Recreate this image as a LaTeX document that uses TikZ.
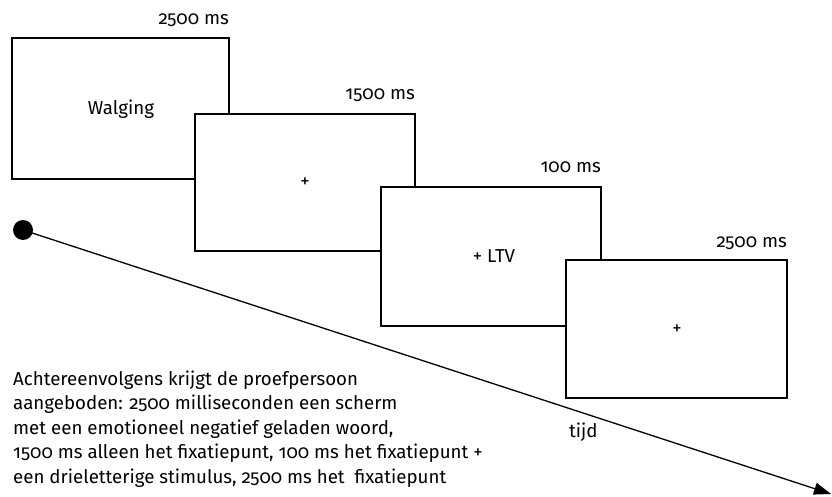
\documentclass[tikz,border=0pt]{standalone}
\usepackage{fontspec}
\setmainfont[Numbers=OldStyle,RawFeature=+onum]{Fira Sans}
\usetikzlibrary{arrows.meta}
\begin{document}
\begin{tikzpicture}[x=1pt,y=-1pt,
  screen/.style={draw=black,line width=1.5pt,fill=white},
  lbl/.style={font=\fontsize{18.7}{22}\selectfont,inner sep=0pt},
  dur/.style={lbl,anchor=base east},
  para/.style={lbl,anchor=base west}]
\useasboundingbox (0,0) rectangle (832,497);
% screens
\draw[screen] (12,38) rectangle (229,179);
\node[lbl,anchor=base] (w) at (121,115) {Walging};
\node[dur] (d1) at (229,25) {2500 ms};
\draw[screen] (195,114) rectangle (415,251);
\node[lbl] (p1) at (305,183) {+};
\node[dur] (d2) at (415,100) {1500 ms};
\draw[screen] (381,187) rectangle (601,326);
\node[lbl,anchor=base] (p2) at (494,262) {+ LTV};
\node[dur] (d3) at (601,173) {100 ms};
\draw[screen] (566,260) rectangle (787,398);
\node[lbl] (p3) at (677,330) {+};
\node[dur] (d4) at (787,247) {2500 ms};
% time axis
\node[circle,fill=black,minimum size=20pt,inner sep=0pt] (dot) at (23,230) {};
\coordinate (end) at (831,494);
\draw[line width=1.3pt,-{Triangle[length=17pt,width=12pt]}] (dot.center) -- (end);
\node[lbl,anchor=base west] (tijd) at (569,437) {tijd};
% caption
\node[para] (t1) at (13,385)   {Achtereenvolgens krijgt de proefpersoon};
\node[para] (t2) at (13,409.5) {aangeboden: 2500 milliseconden een scherm};
\node[para] (t3) at (13,434)   {met een emotioneel negatief geladen woord,};
\node[para] (t4) at (13,458.5) {1500 ms alleen het fixatiepunt, 100 ms het fixatiepunt +};
\node[para] (t5) at (13,483)   {een drieletterige stimulus, 2500 ms het\ \ fixatiepunt};
\end{tikzpicture}
\end{document}
